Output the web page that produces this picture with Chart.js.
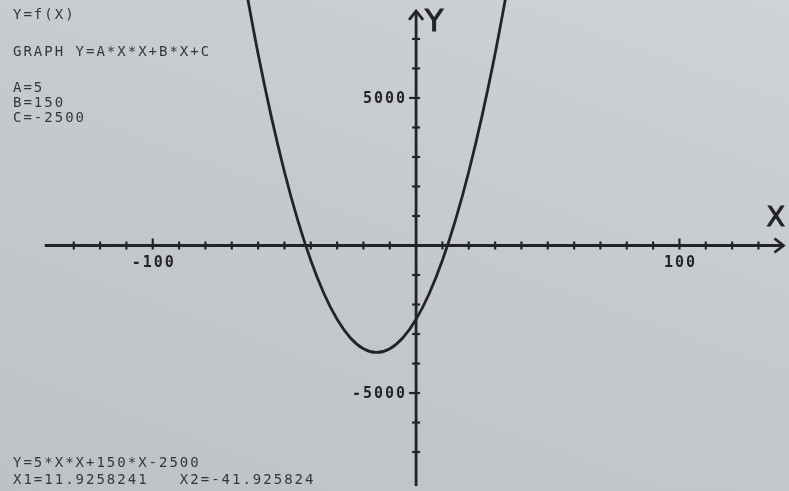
<!DOCTYPE html>
<html>
<head>
<meta charset="utf-8">
<script src="https://cdn.jsdelivr.net/npm/chart.js@4.4.1/dist/chart.umd.min.js"></script>
<style>
  html, body { margin: 0; padding: 0; }
  body { width: 789px; height: 491px; overflow: hidden;
         background: linear-gradient(200deg, #cfd3d7 0%, #c6cacf 45%, #bec2c7 100%); }
  #wrap { position: relative; width: 789px; height: 491px; }
  canvas { position: absolute; left: 0; top: 0; }
  .t { position: absolute; font-family: "DejaVu Sans Mono", monospace; font-size: 14px;
       letter-spacing: 2px; color: #34363c; white-space: pre; line-height: 15px; }
</style>
</head>
<body>
<div id="wrap">
  <canvas id="c" width="789" height="491"></canvas>
  <div class="t" style="left:13px; top:7px;">Y=f(X)</div>
  <div class="t" style="left:13px; top:44px;">GRAPH Y=A*X*X+B*X+C</div>
  <div class="t" style="left:13px; top:80px;">A=5</div>
  <div class="t" style="left:13px; top:95px;">B=150</div>
  <div class="t" style="left:13px; top:110px;">C=-2500</div>
  <div class="t" style="left:13px; top:455px;">Y=5*X*X+150*X-2500</div>
  <div class="t" style="left:13px; top:472px;">X1=11.9258241   X2=-41.925824</div>
</div>
<script>
// Curve points
const xValues = [-65, -60, -55, -50, -45, -40, -35, -30, -25, -20, -15, -10, -5, 0, 5, 10, 15, 20, 25, 30, 35];
const yValues = [8875, 6500, 4375, 2500, 875, -500, -1625, -2500, -3125, -3500, -3625, -3500, -3125, -2500, -1625, -500, 875, 2500, 4375, 6500, 8875];

// Axis ticks
const xTicks = [-130, -120, -110, -100, -90, -80, -70, -60, -50, -40, -30, -20, -10, 10, 20, 30, 40, 50, 60, 70, 80, 90, 100, 110, 120, 130];
const xTickLabels = ['-100', '100'];
const xLabelValues = [-100, 100];
const yTicks = [-7000, -6000, -5000, -4000, -3000, -2000, -1000, 1000, 2000, 3000, 4000, 5000, 6000, 7000];
const yTickLabels = ['5000', '-5000'];
const yLabelValues = [5000, -5000];

const xRange = [-158, 141.6];
const yRange = [-8320, 8320];
const xAxisExtent = [-141, 139.5];
const yAxisExtent = [-8150, 7950];

const INK = '#232428';

const axesPlugin = {
  id: 'crossAxes',
  beforeDatasetsDraw(chart) {
    const ctx = chart.ctx;
    const xs = chart.scales.x, ys = chart.scales.y;
    const x0 = xs.getPixelForValue(0), y0 = ys.getPixelForValue(0);
    ctx.save();
    ctx.strokeStyle = INK;
    ctx.fillStyle = INK;
    ctx.lineWidth = 2.8;
    ctx.lineCap = 'butt';
    // X axis
    const xl = xs.getPixelForValue(xAxisExtent[0]), xr = xs.getPixelForValue(xAxisExtent[1]);
    ctx.beginPath(); ctx.moveTo(xl, y0); ctx.lineTo(xr, y0); ctx.stroke();
    ctx.beginPath(); ctx.moveTo(xr - 9, y0 - 7); ctx.lineTo(xr, y0); ctx.lineTo(xr - 9, y0 + 7); ctx.stroke();
    // Y axis
    const yt = ys.getPixelForValue(yAxisExtent[1]), yb = ys.getPixelForValue(yAxisExtent[0]);
    ctx.beginPath(); ctx.moveTo(x0, yb); ctx.lineTo(x0, yt); ctx.stroke();
    ctx.beginPath(); ctx.moveTo(x0 - 7, yt + 9); ctx.lineTo(x0, yt); ctx.lineTo(x0 + 7, yt + 9); ctx.stroke();
    // ticks
    ctx.lineWidth = 2.2;
    xTicks.forEach(v => {
      const p = xs.getPixelForValue(v);
      const len = xLabelValues.includes(v) ? 7 : 4;
      ctx.beginPath(); ctx.moveTo(p, y0 - len); ctx.lineTo(p, y0 + 4); ctx.stroke();
    });
    yTicks.forEach(v => {
      const p = ys.getPixelForValue(v);
      const len = yLabelValues.includes(v) ? 7 : 4;
      ctx.beginPath(); ctx.moveTo(x0 - len, p); ctx.lineTo(x0 + 4, p); ctx.stroke();
    });
    // labels
    ctx.font = 'bold 15px "DejaVu Sans Mono", monospace';
    if ('letterSpacing' in ctx) ctx.letterSpacing = '2px';
    ctx.textBaseline = 'middle';
    ctx.textAlign = 'center';
    xLabelValues.forEach((v, i) => {
      ctx.fillText(xTickLabels[i], xs.getPixelForValue(v) + 1, y0 + 18);
    });
    ctx.textAlign = 'right';
    yLabelValues.forEach((v, i) => {
      ctx.fillText(yTickLabels[i], x0 - 9, ys.getPixelForValue(v) + 1);
    });
    // axis names
    if ('letterSpacing' in ctx) ctx.letterSpacing = '0px';
    ctx.lineWidth = 1;
    ctx.font = '30px "DejaVu Sans", sans-serif';
    ctx.textAlign = 'left';
    ctx.fillText('Y', x0 + 9, 23);
    ctx.strokeText('Y', x0 + 9, 23);
    ctx.font = '27px "DejaVu Sans", sans-serif';
    ctx.fillText('X', xr - 17, y0 - 27);
    ctx.strokeText('X', xr - 17, y0 - 27);
    ctx.restore();
  }
};

new Chart(document.getElementById('c'), {
  type: 'scatter',
  data: {
    datasets: [{
      data: xValues.map((x, i) => ({ x, y: yValues[i] })),
      showLine: true,
      borderColor: INK,
      borderWidth: 2.8,
      pointRadius: 0,
      cubicInterpolationMode: 'monotone',
      fill: false
    }]
  },
  options: {
    responsive: false,
    animation: false,
    layout: { padding: 0 },
    plugins: { legend: { display: false }, tooltip: { enabled: false } },
    scales: {
      x: { type: 'linear', min: xRange[0], max: xRange[1], display: false },
      y: { type: 'linear', min: yRange[0], max: yRange[1], display: false }
    }
  },
  plugins: [axesPlugin]
});
</script>
</body>
</html>
